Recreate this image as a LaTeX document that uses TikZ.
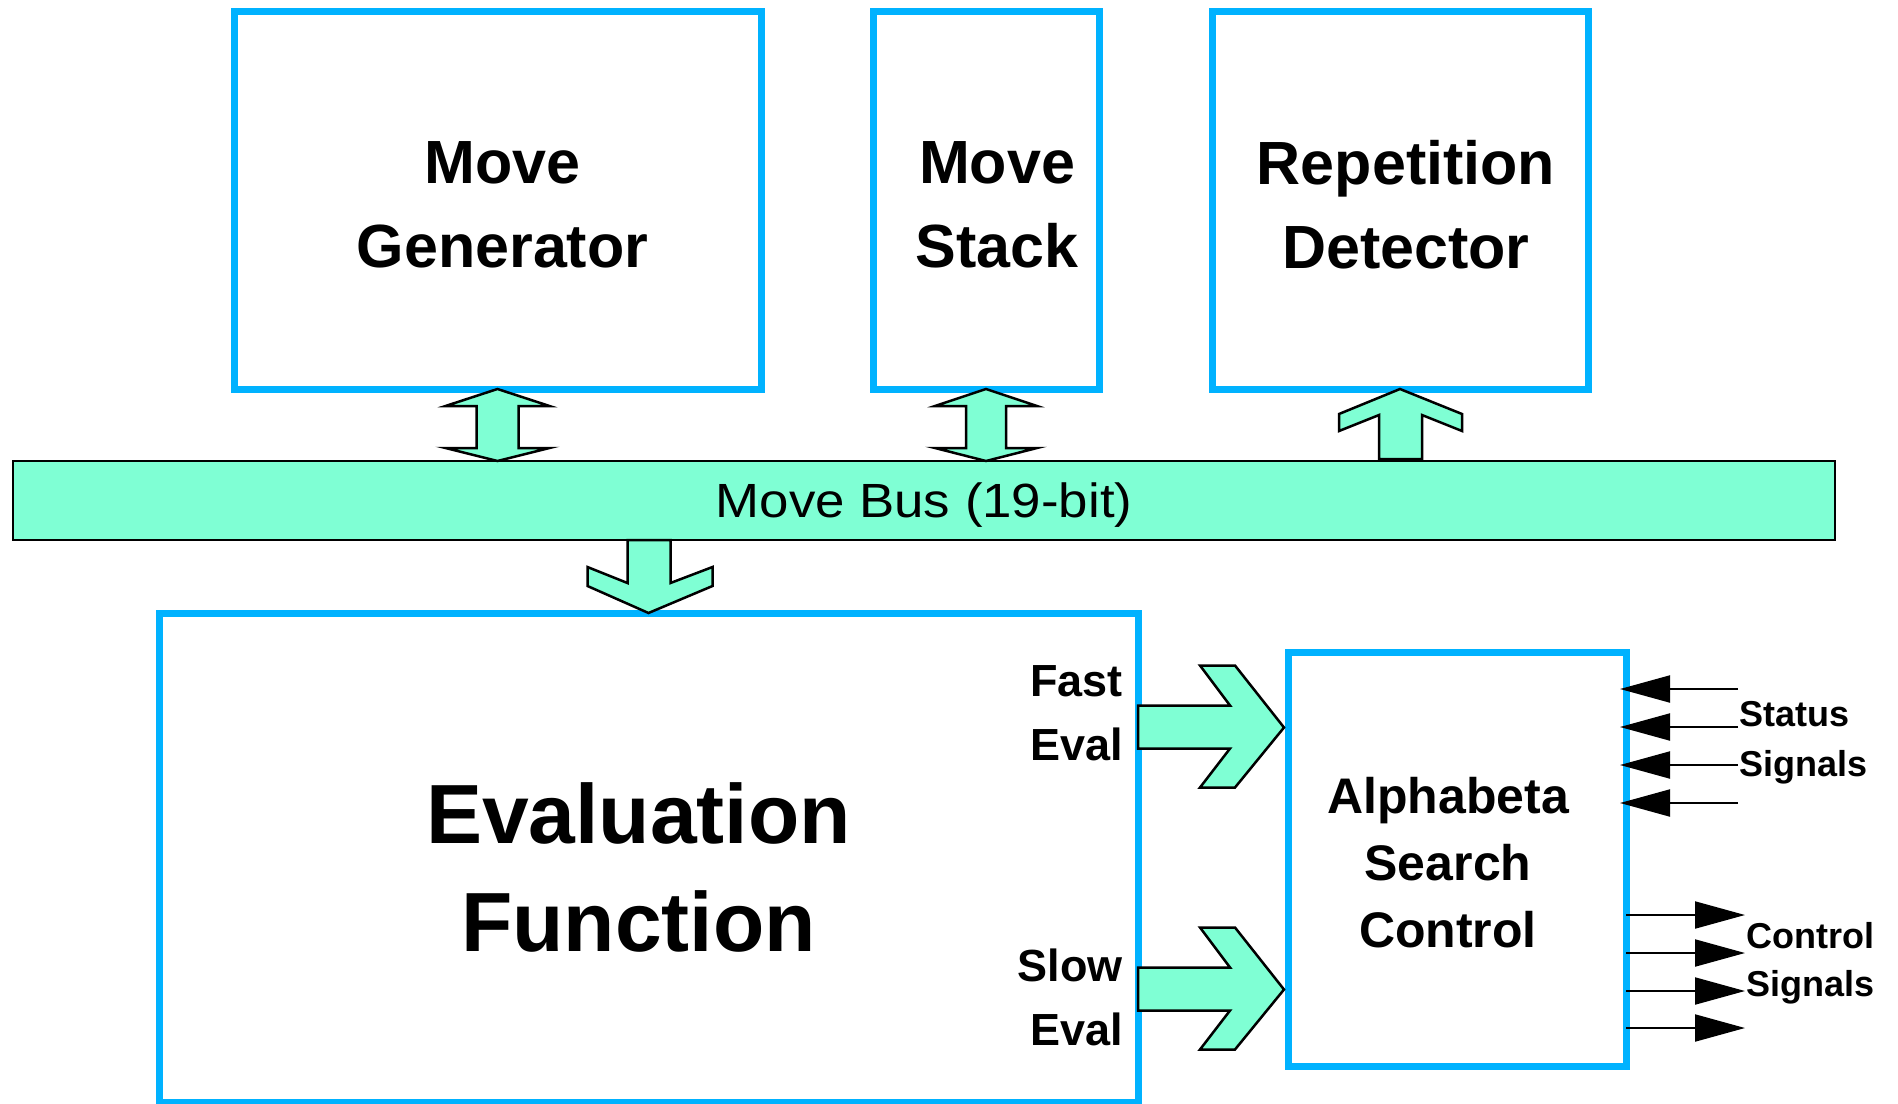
\documentclass[tikz,border=0pt]{standalone}
\usepackage{fontspec}
\setmainfont{Liberation Sans}
\newfontfamily\busfont[FakeStretch=1.1]{Liberation Sans}
\usetikzlibrary{arrows.meta}
\definecolor{boxblue}{RGB}{0,178,255}
\definecolor{busaqua}{RGB}{127,255,212}
\tikzset{
  unitbox/.style={draw=boxblue, line width=7pt, outer sep=0pt},
  blockarr/.style={draw=black, fill=busaqua, line width=2.5pt, line join=miter},
  sig/.style={line width=2pt, -{Triangle[length=50pt,width=27pt]}},
  lbl/.style={inner sep=0pt, align=center}
}
\newcommand{\bigfont}{\bfseries\fontsize{61}{84}\selectfont}
% double block arrow: top, bottom, head half width, shaft half width
\newcommand{\busarrow}[4]{%
  \draw[blockarr] (#1) -- ++(#3,17) -- ++({#4-#3},0) -- ++(0,42) -- ++({#3-#4},0) -- (#2)
    -- ++(-#3,-13) -- ++({#3-#4},0) -- ++(0,-42) -- ++({#4-#3},0) -- cycle;}
% eval block arrow, from a point on the evaluation box
\newcommand{\evalarrow}[1]{%
  \draw[blockarr] (#1) ++(0,-22) -- ++(92,0) -- ++(-30,-40) -- ++(35,0) -- ++(49,62)
    -- ++(-49,60) -- ++(-35,0) -- ++(30,-39) -- ++(-92,0) -- cycle;}

\begin{document}
\begin{tikzpicture}[x=1pt,y=-1pt]
\useasboundingbox (0,0) rectangle (1898,1103);

\node[unitbox, minimum width=527pt, minimum height=378pt] (mg) at (497.5,200) {};
\node[unitbox, minimum width=226pt, minimum height=378pt] (ms) at (986,200) {};
\node[unitbox, minimum width=376pt, minimum height=378pt] (rd) at (1400,200) {};
\node[lbl, font=\bigfont] (mglabel) at ([shift={(5,5)}]mg.center) {Move\\Generator};
\node[lbl, font=\bigfont] (mslabel) at ([shift={(11,5)}]ms.center) {Move\\Stack};
\node[lbl, font=\bigfont] (rdlabel) at ([shift={(6,5)}]rd.center) {Repetition\\Detector};
\node[draw, fill=busaqua, line width=2.5pt, outer sep=0pt, minimum width=1822pt, minimum height=79pt,
  text height=34pt, text depth=0pt, font=\busfont\fontsize{48}{56}\selectfont] (bus) at (924,500.5) {Move Bus (19-bit)};
\node[unitbox, minimum width=979pt, minimum height=489pt] (ef) at (648.5,857.5) {};
\node[lbl, font=\bfseries\fontsize{84}{108}\selectfont] (eflabel) at ([shift={(-10,10)}]ef.center) {Evaluation\\Function};
\node[unitbox, minimum width=338pt, minimum height=414pt] (asc) at (1457,859) {};
\node[lbl, font=\bfseries\fontsize{50}{67}\selectfont] (asclabel) at ([shift={(-9,4)}]asc.center) {Alphabeta\\Search\\Control};

% bus arrows
\busarrow{mg.south}{mg.south |- bus.north}{52}{21}
\busarrow{ms.south}{ms.south |- bus.north}{51}{20}
\draw[blockarr] (rd.south) -- ++(62,25) -- ++(0,17) -- ++(-40,-16) -- ++(0,44) -- ++(-43,0) -- ++(0,-44)
  -- ++(-40,16) -- ++(0,-17) -- cycle;
\draw[blockarr] (ef.north |- bus.south) ++(-21,0) -- ++(0,43) -- ++(-40,-16) -- ++(0,19) -- (ef.north)
  -- ++(64,-27) -- ++(0,-19) -- ++(-42,16) -- ++(0,-43) -- cycle;

% eval outputs
\coordinate (fe) at ([shift={(0,-130)}]ef.east);
\coordinate (se) at ([shift={(0,132)}]ef.east);
\evalarrow{fe}
\evalarrow{se}
\node[lbl, align=right, anchor=east, font=\bfseries\fontsize{45}{64}\selectfont] (fast) at (1123,713) {Fast\\Eval};
\node[lbl, align=right, anchor=east, font=\bfseries\fontsize{45}{64}\selectfont] (slow) at (1123,997) {Slow\\Eval};

% status and control signals
\draw[sig] ([shift={(112,37)}]asc.north east) -- ([shift={(-6,37)}]asc.north east);
\draw[sig] ([shift={(112,75)}]asc.north east) -- ([shift={(-6,75)}]asc.north east);
\draw[sig] ([shift={(112,113)}]asc.north east) -- ([shift={(-6,113)}]asc.north east);
\draw[sig] ([shift={(112,151)}]asc.north east) -- ([shift={(-6,151)}]asc.north east);
\draw[sig] ([shift={(0,-151)}]asc.south east) -- ++(119,0);
\draw[sig] ([shift={(0,-113)}]asc.south east) -- ++(119,0);
\draw[sig] ([shift={(0,-75)}]asc.south east) -- ++(119,0);
\draw[sig] ([shift={(0,-38)}]asc.south east) -- ++(119,0);
\node[lbl, align=left, anchor=west, font=\bfseries\fontsize{36}{50}\selectfont] (status) at (1739,743) {Status\\Signals};
\node[lbl, align=left, anchor=west, font=\bfseries\fontsize{36}{48}\selectfont] (ctrl) at (1746,963) {Control\\Signals};
\end{tikzpicture}
\end{document}
